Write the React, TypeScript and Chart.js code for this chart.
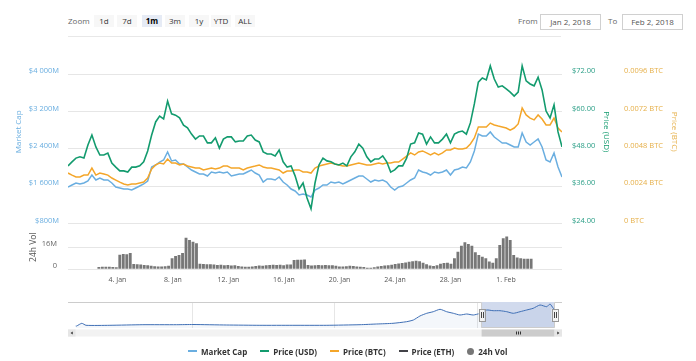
import React, { useEffect, useRef } from "react";
import { Chart, registerables } from "chart.js";

Chart.register(...registerables);

const FONT = "'Open Sans', 'DejaVu Sans', sans-serif";

// time range shown (fractional day of January 2018; 32 = 1 Feb)
const TIME_START = 2.66;
const TIME_END = 33.81;

// Market cap, millions of USD
const MARKET_CAP = [
  1581, 1624, 1667, 1646, 1667, 1710, 1838, 1731, 1774, 1731,
  1731, 1667, 1581, 1560, 1538, 1538, 1517, 1560, 1603, 1646,
  1710, 2009, 2052, 2116, 2159, 2330, 2138, 2159, 2074, 2074,
  2009, 1945, 1902, 1860, 1860, 1817, 1902, 1881, 1902, 1881,
  1902, 1817, 1838, 1860, 1860, 1902, 1945, 1881, 1838, 1688,
  1753, 1753, 1731, 1795, 1688, 1624, 1538, 1496, 1410, 1431,
  1410, 1367, 1517, 1560, 1624, 1624, 1688, 1667, 1688, 1646,
  1688, 1731, 1774, 1817, 1817, 1753, 1688, 1731, 1710, 1731,
  1688, 1581, 1517, 1581, 1603, 1667, 1731, 1774, 1945, 1902,
  1881, 1838, 1902, 1881, 1902, 1945, 1838, 1945, 1967, 2009,
  1988, 2116, 2352, 2716, 2673, 2673, 2759, 2652, 2587, 2523,
  2523, 2480, 2437, 2437, 2737, 2545, 2480, 2545, 2609, 2437,
  2159, 2116, 2309, 2009, 1795,
];

// Price in USD
const PRICE_USD = [
  42.5, 43.8, 45.0, 45.4, 45.0, 49.2, 52.4, 48.6, 46.0, 46.0,
  46.6, 43.4, 42.1, 40.9, 40.9, 40.5, 42.1, 42.1, 42.5, 43.8,
  47.3, 52.4, 56.6, 58.5, 57.6, 63.3, 59.2, 58.8, 57.9, 55.6,
  54.7, 52.7, 51.1, 52.1, 52.1, 49.9, 49.9, 51.5, 48.2, 51.1,
  51.8, 51.8, 50.2, 50.5, 50.5, 52.1, 52.4, 50.8, 50.2, 47.0,
  46.3, 46.3, 45.7, 47.6, 43.8, 42.1, 42.5, 39.3, 35.1, 37.0,
  32.2, 28.7, 37.0, 42.8, 45.0, 44.1, 43.8, 43.1, 42.8, 43.4,
  42.5, 45.4, 47.0, 49.5, 48.2, 45.4, 43.8, 44.7, 44.7, 45.7,
  43.8, 40.5, 41.2, 42.5, 42.5, 45.0, 49.5, 49.9, 53.1, 52.7,
  49.5, 51.8, 49.9, 49.9, 51.1, 52.7, 49.9, 52.7, 53.4, 53.7,
  52.7, 56.3, 62.4, 69.4, 70.7, 70.1, 74.6, 70.4, 67.8, 68.2,
  67.2, 66.2, 64.9, 66.2, 74.6, 69.8, 68.8, 68.2, 71.0, 66.9,
  60.1, 57.9, 62.1, 53.4, 48.6,
];

// Price in BTC
const PRICE_BTC = [
  0.00324, 0.00311, 0.00299, 0.00299, 0.00311, 0.00311, 0.00356, 0.00311, 0.00324, 0.00318,
  0.00311, 0.00292, 0.00279, 0.00266, 0.00254, 0.00247, 0.00254, 0.00254, 0.0026, 0.00266,
  0.00292, 0.0035, 0.00376, 0.00388, 0.00382, 0.00414, 0.00388, 0.00388, 0.00376, 0.00382,
  0.00369, 0.00363, 0.00356, 0.00356, 0.00344, 0.0035, 0.00356, 0.0035, 0.00356, 0.00369,
  0.00369, 0.00356, 0.00356, 0.00356, 0.00344, 0.00356, 0.00363, 0.00369, 0.00376, 0.00363,
  0.00356, 0.00356, 0.0035, 0.00344, 0.00324, 0.00337, 0.00337, 0.00344, 0.00344, 0.00331,
  0.00331, 0.00324, 0.00356, 0.00369, 0.00376, 0.00382, 0.00388, 0.00382, 0.00376, 0.00369,
  0.00369, 0.00376, 0.00382, 0.00388, 0.00382, 0.00376, 0.00376, 0.00382, 0.00388, 0.00382,
  0.00388, 0.00388, 0.00395, 0.00395, 0.00414, 0.00433, 0.00453, 0.0044, 0.00459, 0.00466,
  0.00453, 0.0044, 0.00453, 0.0044, 0.00453, 0.00472, 0.00472, 0.00485, 0.00478, 0.00478,
  0.00485, 0.00511, 0.00549, 0.0062, 0.0062, 0.0062, 0.00645, 0.00633, 0.00626, 0.0062,
  0.00613, 0.006, 0.00613, 0.00639, 0.00742, 0.00697, 0.00677, 0.00665, 0.00697, 0.00671,
  0.00633, 0.00633, 0.00677, 0.00613, 0.00588,
];

// 24h volume, millions of USD
const VOLUME = [
  1.6, 1.9, 1.9, 1.9, 1.7, 1.5, 10.5, 11.2, 11.0, 11.8,
  3.8, 3.6, 3.4, 3.2, 3.0, 2.6, 2.2, 2.0, 2.1, 2.3,
  2.6, 8.0, 9.7, 10.4, 11.9, 23.0, 21.3, 20.1, 18.9, 4.0,
  3.8, 3.6, 3.6, 3.4, 3.2, 3.3, 3.0, 3.1, 2.8, 2.9,
  2.4, 2.0, 1.9, 1.8, 2.0, 2.4, 2.7, 2.6, 3.0, 3.2,
  3.3, 3.2, 3.3, 3.0, 3.4, 3.4, 6.8, 7.0, 7.0, 7.2,
  3.2, 2.8, 3.0, 3.2, 3.0, 3.1, 3.0, 2.9, 2.6, 2.0,
  2.0, 2.2, 2.5, 2.4, 2.1, 1.8, 1.6, 1.2, 1.1, 1.5,
  2.0, 2.4, 2.8, 3.0, 3.3, 3.8, 4.2, 4.5, 5.0, 5.5,
  5.8, 6.2, 5.8, 4.8, 3.6, 2.8, 2.4, 3.0, 4.0, 4.6,
  4.8, 4.0, 8.0, 12.8, 17.2, 19.6, 18.4, 17.2, 12.4, 10.4,
  9.2, 8.0, 5.6, 4.8, 8.0, 17.7, 22.5, 23.8, 21.3, 10.4,
  8.5, 8.0, 7.6, 7.6, 7.6,
];

const X_TICK_DAYS = [4, 8, 12, 16, 20, 24, 28, 32];
const X_TICK_LABELS = ["4. Jan", "8. Jan", "12. Jan", "16. Jan", "20. Jan", "24. Jan", "28. Jan", "1. Feb"];

const MC_TICKS = [800, 1600, 2400, 3200, 4000];
const MC_TICK_LABELS = ["$800M", "$1 600M", "$2 400M", "$3 200M", "$4 000M"];
const USD_TICKS = [24, 36, 48, 60, 72];
const USD_TICK_LABELS = ["$24.00", "$36.00", "$48.00", "$60.00", "$72.00"];
const BTC_TICKS = [0, 0.0024, 0.0048, 0.0072, 0.0096];
const BTC_TICK_LABELS = ["0 BTC", "0.0024 BTC", "0.0048 BTC", "0.0072 BTC", "0.0096 BTC"];
const VOL_TICKS = [0, 16];
const VOL_TICK_LABELS = ["0", "16M"];

// axis extents
const MC_RANGE = [800, 4728];
const USD_RANGE = [24, 82.92];
const BTC_RANGE = [0, 0.011783];
const VOL_RANGE = [0, 32.2];

// navigator (longer history), day relative to 1 Jan 2018 = 1
const NAV_DAYS = [
  -170.9, -170.4, -168.2, -166.4, -156.2, -142.1, -127.7, -120.7, -106.3, -92.1,
  -78.0, -63.5, -49.3, -42.2, -35.2, -29.4, -26.5, -23.7, -20.8, -18.0,
  -15.1, -12.3, -9.4, -6.6, -3.7, -0.9, 2.0, 4.8, 7.6, 10.5,
  13.4, 16.2, 19.1, 21.9, 24.7, 27.6, 30.5, 31.9, 33.3, 33.81,
];
const NAV_VALUES = [
  233, 233, 548, 315, 315, 385, 385, 408, 350, 315,
  315, 315, 385, 467, 548, 735, 934, 1400, 1715, 1902,
  2182, 1902, 1715, 1517, 1634, 1517, 1715, 2100, 2019, 2019,
  1902, 1715, 1902, 2100, 2299, 2684, 2486, 2800, 2299, 2217,
];
const NAV_RANGE = [0, 3034];
const NAV_TICK_DAYS = [-121, -60, 1];
const NAV_TICK_LABELS = ["Sep '17", "Nov '17", "Jan '18"];

const RANGE_BUTTONS = ["1d", "7d", "1m", "3m", "1y", "YTD", "ALL"];
const SELECTED_BUTTON = "1m";
const FROM_DATE = "Jan 2, 2018";
const TO_DATE = "Feb 2, 2018";

const LEGEND = [
  { label: "Market Cap", color: "#6aaee0", symbol: "line" },
  { label: "Price (USD)", color: "#139b6e", symbol: "line" },
  { label: "Price (BTC)", color: "#f4a62a", symbol: "line" },
  { label: "Price (ETH)", color: "#434348", symbol: "line" },
  { label: "24h Vol", color: "#777777", symbol: "dot" },
];

const MC_COLOR = "#6aaee0";
const USD_COLOR = "#139b6e";
const USD_TEXT = "#2a9e86";
const BTC_COLOR = "#f4a62a";
const BTC_TEXT = "#e6b04a";
const VOL_COLOR = "#777777";
const GRID = "#e6e6e6";

const times = MARKET_CAP.map((_, i) => TIME_START + (i * (TIME_END - TIME_START)) / (MARKET_CAP.length - 1));
const pts = (arr: number[]) => arr.map((v, i) => ({ x: times[i], y: v }));

const fixTicks = (values: number[]) => (scale: any) => {
  scale.ticks = values.map((v) => ({ value: v }));
};
const labelFor = (values: number[], labels: string[]) => (v: any) => {
  const k = values.indexOf(Number(v));
  return k >= 0 ? labels[k] : "";
};

const tickFont = { family: FONT, size: 7.5 };
const titleFont = { family: FONT, size: 8 };

export default function App() {
  const mainRef = useRef<HTMLCanvasElement>(null);
  const volRef = useRef<HTMLCanvasElement>(null);
  const navRef = useRef<HTMLCanvasElement>(null);

  useEffect(() => {
    const charts: Chart[] = [];

    const main = new Chart(mainRef.current as HTMLCanvasElement, {
      type: "line",
      data: {
        datasets: [
          { label: "Market Cap", data: pts(MARKET_CAP), yAxisID: "yMC", borderColor: MC_COLOR, borderWidth: 1.5, pointRadius: 0, order: 3 },
          { label: "Price (BTC)", data: pts(PRICE_BTC), yAxisID: "yBTC", borderColor: BTC_COLOR, borderWidth: 1.5, pointRadius: 0, order: 2 },
          { label: "Price (USD)", data: pts(PRICE_USD), yAxisID: "yUSD", borderColor: USD_COLOR, borderWidth: 1.6, pointRadius: 0, order: 1 },
        ],
      },
      options: {
        animation: false,
        responsive: false,
        maintainAspectRatio: false,
        layout: { padding: { left: 11, right: 14, top: 16, bottom: 16.5 } },
        plugins: { legend: { display: false }, tooltip: { enabled: false } },
        elements: { line: { tension: 0 } },
        scales: {
          x: { type: "linear", min: TIME_START, max: TIME_END, display: false },
          yMC: {
            position: "left",
            min: MC_RANGE[0],
            max: MC_RANGE[1],
            afterBuildTicks: fixTicks(MC_TICKS),
            afterFit: (s: any) => { s.width = 57; },
            grid: { color: GRID, drawTicks: false, lineWidth: 1 },
            border: { display: false },
            ticks: { autoSkip: false, padding: 9, labelOffset: -3, color: MC_COLOR, font: tickFont, callback: labelFor(MC_TICKS, MC_TICK_LABELS) },
            title: { display: true, text: "Market Cap", color: MC_COLOR, font: titleFont, padding: { top: 3.2, bottom: 0 } },
          },
          yUSD: {
            position: "right",
            min: USD_RANGE[0],
            max: USD_RANGE[1],
            afterBuildTicks: fixTicks(USD_TICKS),
            afterFit: (s: any) => { s.width = 52; },
            grid: { drawOnChartArea: false, drawTicks: false },
            border: { display: false },
            ticks: { autoSkip: false, padding: 10, labelOffset: -3, color: USD_TEXT, font: tickFont, callback: labelFor(USD_TICKS, USD_TICK_LABELS) },
            title: { display: true, text: "Price (USD)", color: USD_COLOR, font: titleFont, padding: { top: 3.2, bottom: 0 } },
          },
          yBTC: {
            position: "right",
            min: BTC_RANGE[0],
            max: BTC_RANGE[1],
            afterBuildTicks: fixTicks(BTC_TICKS),
            afterFit: (s: any) => { s.width = 68; },
            grid: { drawOnChartArea: false, drawTicks: false },
            border: { display: false },
            ticks: { autoSkip: false, padding: 10, labelOffset: -3, color: BTC_TEXT, font: tickFont, callback: labelFor(BTC_TICKS, BTC_TICK_LABELS) },
            title: { display: true, text: "Price (BTC)", color: BTC_TEXT, font: titleFont, padding: { top: 3.2, bottom: 0 } },
          },
        },
      } as any,
    });
    charts.push(main);

    const vol = new Chart(volRef.current as HTMLCanvasElement, {
      type: "bar",
      data: {
        datasets: [
          { label: "24h Vol", data: pts(VOLUME), backgroundColor: VOL_COLOR, borderWidth: 0, barPercentage: 0.82, categoryPercentage: 1 },
        ],
      },
      options: {
        animation: false,
        responsive: false,
        maintainAspectRatio: false,
        layout: { padding: { left: 11, right: 134, top: 16, bottom: 0 } },
        plugins: { legend: { display: false }, tooltip: { enabled: false } },
        scales: {
          x: {
            type: "linear",
            min: TIME_START,
            max: TIME_END,
            afterBuildTicks: fixTicks(X_TICK_DAYS),
            afterFit: (s: any) => { s.height = 22.7; },
            grid: { display: false, drawTicks: false },
            border: { display: false },
            ticks: { autoSkip: false, maxRotation: 0, padding: 6, color: "#555", font: { family: FONT, size: 7 }, callback: labelFor(X_TICK_DAYS, X_TICK_LABELS) },
          },
          y: {
            position: "left",
            min: VOL_RANGE[0],
            max: VOL_RANGE[1],
            afterBuildTicks: fixTicks(VOL_TICKS),
            afterFit: (s: any) => { s.width = 57; },
            grid: { color: GRID, drawTicks: false },
            border: { display: false },
            ticks: { autoSkip: false, padding: 11, labelOffset: -3, color: "#666", font: tickFont, callback: labelFor(VOL_TICKS, VOL_TICK_LABELS) },
            title: { display: true, text: "24h Vol", color: "#555", font: { family: FONT, size: 8.5 }, padding: { top: 17, bottom: 0 } },
          },
        },
      } as any,
    });
    charts.push(vol);

    const navDecor = {
      id: "navDecor",
      beforeDatasetsDraw(chart: any) {
        const { ctx, chartArea: a, scales } = chart;
        const xs = scales.x.getPixelForValue(TIME_START);
        const xe = scales.x.getPixelForValue(TIME_END);
        ctx.save();
        ctx.fillStyle = "rgba(102,133,194,0.3)";
        ctx.fillRect(xs, a.top, xe - xs, a.bottom - a.top);
        ctx.restore();
      },
      afterDraw(chart: any) {
        const { ctx, chartArea: a, scales } = chart;
        const xs = scales.x.getPixelForValue(TIME_START);
        const xe = scales.x.getPixelForValue(TIME_END);
        const btn = 7.5;
        ctx.save();
        // outline
        ctx.strokeStyle = "#cccccc";
        ctx.lineWidth = 1;
        ctx.beginPath();
        ctx.moveTo(a.left - btn, a.top + 0.5);
        ctx.lineTo(xs, a.top + 0.5);
        ctx.lineTo(xs, a.bottom - 0.5);
        ctx.lineTo(xe, a.bottom - 0.5);
        ctx.lineTo(xe, a.top + 0.5);
        ctx.lineTo(a.right + btn, a.top + 0.5);
        ctx.stroke();
        // handles
        const hy = (a.top + a.bottom) / 2;
        for (const hx of [xs, xe]) {
          ctx.fillStyle = "#f2f2f2";
          ctx.strokeStyle = "#999999";
          ctx.fillRect(hx - 3, hy - 6, 6, 12);
          ctx.strokeRect(Math.round(hx - 3) + 0.5, Math.round(hy - 6) + 0.5, 6, 12);
          ctx.strokeStyle = "#444";
          ctx.beginPath();
          ctx.moveTo(Math.round(hx) - 0.5, hy - 3);
          ctx.lineTo(Math.round(hx) - 0.5, hy + 3);
          ctx.moveTo(Math.round(hx) + 1.5, hy - 3);
          ctx.lineTo(Math.round(hx) + 1.5, hy + 3);
          ctx.stroke();
        }
        // scrollbar
        const sy = a.bottom + 1.5;
        const sh = 7;
        ctx.fillStyle = "#f2f2f2";
        ctx.fillRect(a.left - btn, sy, a.right - a.left + 2 * btn, sh);
        ctx.fillStyle = "#cccccc";
        ctx.fillRect(xs, sy, xe - xs, sh);
        // rifles
        const cx = (xs + xe) / 2;
        ctx.strokeStyle = "#333";
        ctx.beginPath();
        for (const dx of [-2, 0, 2]) {
          ctx.moveTo(Math.round(cx + dx) + 0.5, sy + 2);
          ctx.lineTo(Math.round(cx + dx) + 0.5, sy + sh - 2);
        }
        ctx.stroke();
        // buttons
        ctx.fillStyle = "#e6e6e6";
        ctx.fillRect(a.left - btn, sy, btn, sh);
        ctx.fillRect(a.right, sy, btn, sh);
        ctx.fillStyle = "#333";
        const my = sy + sh / 2;
        ctx.beginPath();
        ctx.moveTo(a.left - btn / 2 - 1.2, my);
        ctx.lineTo(a.left - btn / 2 + 1, my - 1.6);
        ctx.lineTo(a.left - btn / 2 + 1, my + 1.6);
        ctx.closePath();
        ctx.fill();
        ctx.beginPath();
        ctx.moveTo(a.right + btn / 2 + 1.2, my);
        ctx.lineTo(a.right + btn / 2 - 1, my - 1.6);
        ctx.lineTo(a.right + btn / 2 - 1, my + 1.6);
        ctx.closePath();
        ctx.fill();
        ctx.restore();
      },
    };

    const nav = new Chart(navRef.current as HTMLCanvasElement, {
      type: "line",
      data: {
        datasets: [
          {
            label: "navigator",
            data: NAV_DAYS.map((d, i) => ({ x: d, y: NAV_VALUES[i] })),
            borderColor: "#3f6fb5",
            borderWidth: 1,
            backgroundColor: "rgba(63,111,181,0.06)",
            fill: "origin",
            pointRadius: 0,
            tension: 0.2,
          },
        ],
      },
      options: {
        animation: false,
        responsive: false,
        maintainAspectRatio: false,
        layout: { padding: { left: 75.5, right: 141.5, top: 12, bottom: 12 } },
        plugins: { legend: { display: false }, tooltip: { enabled: false } },
        scales: {
          x: {
            type: "linear",
            min: NAV_DAYS[0],
            max: TIME_END,
            afterBuildTicks: fixTicks(NAV_TICK_DAYS),
            afterFit: (s: any) => { s.height = 0; },
            grid: { color: GRID, drawTicks: false },
            border: { display: false },
            ticks: { autoSkip: false, maxRotation: 0, align: "start", labelOffset: 3, padding: -9.5, color: "#666", font: { family: FONT, size: 7 }, callback: labelFor(NAV_TICK_DAYS, NAV_TICK_LABELS) },
          },
          y: { min: NAV_RANGE[0], max: NAV_RANGE[1], display: false },
        },
      } as any,
      plugins: [navDecor as any],
    });
    charts.push(nav);

    return () => charts.forEach((c) => c.destroy());
  }, []);

  const btnLefts = [94, 117, 142, 165, 189, 211, 235];

  return (
    <div style={{ position: "absolute", left: 0, top: 0, width: 696, height: 361, background: "#fff", fontFamily: FONT, overflow: "hidden" }}>
      {/* range selector */}
      <div style={{ position: "absolute", left: 68, top: 15, height: 12, lineHeight: "12px", fontSize: 8, color: "#666" }}>Zoom</div>
      {RANGE_BUTTONS.map((b, i) => (
        <div
          key={b}
          style={{
            position: "absolute",
            left: btnLefts[i],
            top: 15,
            width: 20,
            height: 12,
            lineHeight: "12px",
            textAlign: "center",
            fontSize: 8,
            background: b === SELECTED_BUTTON ? "#e6ebf5" : "#f7f7f7",
            color: b === SELECTED_BUTTON ? "#000" : "#333",
            fontWeight: b === SELECTED_BUTTON ? 700 : 400,
          }}
        >
          {b}
        </div>
      ))}
      <div style={{ position: "absolute", left: 518, top: 15, height: 12, lineHeight: "12px", fontSize: 8, color: "#666" }}>From</div>
      <div style={{ position: "absolute", left: 540, top: 14, width: 59, height: 14, border: "1px solid #d0d0d0", lineHeight: "14px", textAlign: "center", fontSize: 8, color: "#555", boxSizing: "content-box" }}>{FROM_DATE}</div>
      <div style={{ position: "absolute", left: 608, top: 15, height: 12, lineHeight: "12px", fontSize: 8, color: "#666" }}>To</div>
      <div style={{ position: "absolute", left: 622, top: 14, width: 59, height: 14, border: "1px solid #d0d0d0", lineHeight: "14px", textAlign: "center", fontSize: 8, color: "#555", boxSizing: "content-box" }}>{TO_DATE}</div>
      <div style={{ position: "absolute", left: 68, top: 36, width: 493, height: 1, background: "#e8e8e8" }} />

      <canvas ref={mainRef} width={696} height={216} style={{ position: "absolute", left: 0, top: 24, width: 696, height: 216 }} />
      <canvas ref={volRef} width={696} height={83} style={{ position: "absolute", left: 0, top: 209, width: 696, height: 83 }} />
      <canvas ref={navRef} width={696} height={50} style={{ position: "absolute", left: 0, top: 290, width: 696, height: 50 }} />

      {/* legend */}
      <div style={{ position: "absolute", left: 188, top: 345, height: 12, display: "flex", alignItems: "center", gap: 13 }}>
        {LEGEND.map((it) => (
          <div key={it.label} style={{ display: "flex", alignItems: "center", gap: 4 }}>
            {it.symbol === "line" ? (
              <div style={{ width: 9, height: 1.5, background: it.color }} />
            ) : (
              <div style={{ width: 7, height: 7, borderRadius: "50%", background: it.color }} />
            )}
            <span style={{ fontSize: 8, fontWeight: 700, color: "#333", whiteSpace: "nowrap" }}>{it.label}</span>
          </div>
        ))}
      </div>
    </div>
  );
}
